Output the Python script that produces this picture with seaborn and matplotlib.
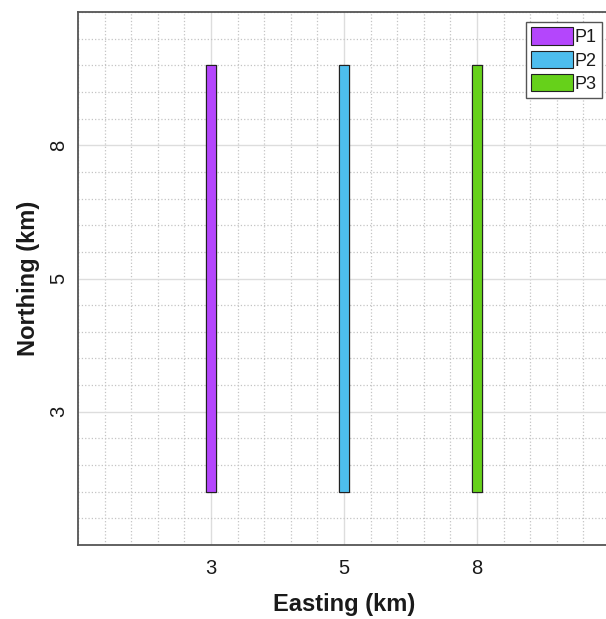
import numpy as np
import matplotlib
matplotlib.use('Agg')
import matplotlib.pyplot as plt
from matplotlib.patches import Patch
from matplotlib.ticker import MultipleLocator
import seaborn as sns
import pandas as pd

# dane: trzy profile, pozycja na osi i zakres w pionie
profiles = ['P1', 'P2', 'P3']
x_pos = [1, 2, 3]
y_start = [0.4, 0.4, 0.4]
y_end = [3.6, 3.6, 3.6]
colors = ['#b446fc', '#4dbeee', '#66d11a']

tick_pos = [1, 2, 3]
x_ticklabels = ['3', '5', '8']
y_ticklabels = ['3', '5', '8']

df = pd.DataFrame({'profile': profiles, 'x': x_pos,
                   'length': np.array(y_end) - np.array(y_start)})

sns.set_style('white')
plt.rcParams['font.family'] = ['Liberation Sans', 'DejaVu Sans']
plt.rcParams['text.color'] = '#1a1a1a'
plt.rcParams['xtick.color'] = '#1a1a1a'
plt.rcParams['ytick.color'] = '#1a1a1a'
plt.rcParams['axes.labelcolor'] = '#1a1a1a'

fig = plt.figure(figsize=(6.06, 6.19), dpi=100)
ax = fig.add_axes([0.1287, 0.1195, 0.878, 0.8611])

sns.barplot(data=df, x='x', y='length', hue='profile', palette=colors,
            native_scale=True, dodge=False, width=0.075, legend=False,
            saturation=1, bottom=y_start, edgecolor='#222222',
            linewidth=0.8, ax=ax, zorder=3)

ax.set_xlim(0, 4)
ax.set_ylim(0, 4)
ax.set_xticks(tick_pos)
ax.set_xticklabels(x_ticklabels, fontsize=14.5)
ax.set_yticks(tick_pos)
ax.set_yticklabels(y_ticklabels, fontsize=14.5, rotation=90, va='center')
ax.xaxis.set_minor_locator(MultipleLocator(0.2))
ax.yaxis.set_minor_locator(MultipleLocator(0.2))
ax.grid(which='major', color='#dddddd', linewidth=1.0, zorder=0)
ax.grid(which='minor', color='#c4c4c4', linewidth=0.9, linestyle=':', zorder=0)
ax.set_axisbelow(True)
ax.tick_params(which='major', direction='in', length=4, width=1)
ax.tick_params(axis='x', which='major', pad=10)
ax.tick_params(axis='y', which='major', pad=7)
ax.tick_params(which='minor', length=0)

for side in ['left', 'bottom', 'top', 'right']:
    ax.spines[side].set_color('#555555')
    ax.spines[side].set_linewidth(1.3)

ax.set_xlabel('Easting (km)', fontsize=17, fontweight='bold', labelpad=11)
ax.set_ylabel('Northing (km)', fontsize=17, fontweight='bold', labelpad=7)

handles = [Patch(facecolor=c, edgecolor='#222222', linewidth=0.8)
           for c in colors]
leg = ax.legend(handles, profiles, loc='upper right',
                bbox_to_anchor=(0.9934, 0.9645),
                bbox_transform=fig.transFigure, borderaxespad=0,
                fontsize=13, handlelength=2.3, handleheight=1.1,
                handletextpad=0.1, labelspacing=0.25, borderpad=0.3,
                fancybox=False, framealpha=1, edgecolor='#555555')
leg.get_frame().set_linewidth(1.0)

plt.savefig('out.png', dpi=100)
plt.close()
